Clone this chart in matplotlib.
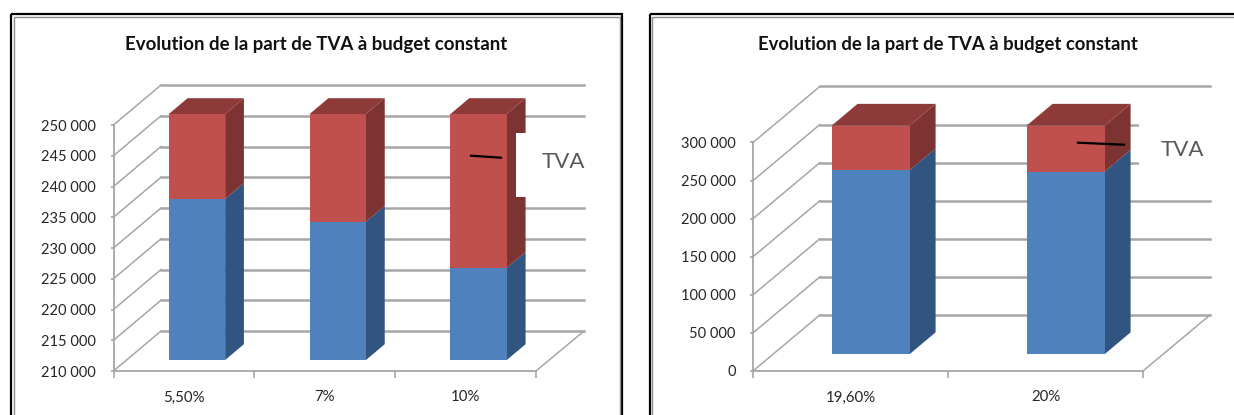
import matplotlib
matplotlib.use('Agg')
import matplotlib.pyplot as plt
from matplotlib.patches import Rectangle
import numpy as np

plt.rcParams['font.family'] = ['Lato', 'DejaVu Sans']

W, H = 1234, 415
TITLE = 'Evolution de la part de TVA à budget constant'
SERIES_LABEL = 'TVA'

left_categories = ['5,50%', '7%', '10%']
left_base = [236200, 232500, 225000]
left_tva = [13800, 17500, 25000]
left_ticks = [210000, 215000, 220000, 225000, 230000, 235000, 240000, 245000, 250000]

right_categories = ['19,60%', '20%']
right_base = [241500, 239800]
right_tva = [58500, 60200]
right_ticks = [0, 50000, 100000, 150000, 200000, 250000, 300000]

BLUE, BLUE_SIDE = '#4f81bd', '#325480'
RED, RED_SIDE, RED_TOP = '#c0504d', '#7d3331', '#8d3a38'
GRID = '#a6a6a6'
TEXT = '#262626'


def draw_panel(fig, box, wall, grid_end, depth, categories, base, tva, ticks):
    # box = front plane in pixels (x0, x1, y_bottom, y_top), image coords
    x0, x1, yb, yt = box
    ax = fig.add_axes([x0 / W, 1 - yb / H, (x1 - x0) / W, (yb - yt) / H])
    n = len(categories)
    ax.set_xlim(0, n)
    ax.set_ylim(ticks[0], ticks[-1])
    ax.patch.set_visible(False)

    px_x = n / (x1 - x0)
    px_y = (ticks[-1] - ticks[0]) / (yb - yt)
    wx, wy = wall[0] * px_x, wall[1] * px_y
    end = (grid_end - x0) * px_x

    # walls: side diagonals and back gridlines
    for t in ticks:
        ax.plot([0, wx], [t, t + wy], color=GRID, lw=1.1, clip_on=False, zorder=1)
        ax.plot([wx, end], [t + wy, t + wy], color=GRID, lw=1.8, clip_on=False, zorder=1)
    ax.plot([n, end], [ticks[0], ticks[0] + wy], color=GRID, lw=1.1, clip_on=False, zorder=1)

    # 3D bars
    f0, f1 = depth
    width = 0.4
    for i in range(n):
        xl = i + 0.5 - width / 2 + f0 * wx
        xr = xl + width
        y0 = ticks[0] + f0 * wy
        y1 = base[i] + f0 * wy
        y2 = base[i] + tva[i] + f0 * wy
        ddx, ddy = (f1 - f0) * wx, (f1 - f0) * wy
        ax.fill([xr, xr + ddx, xr + ddx, xr], [y0, y0 + ddy, y1 + ddy, y1],
                color=BLUE_SIDE, lw=0, clip_on=False, zorder=2)
        ax.fill([xr, xr + ddx, xr + ddx, xr], [y1, y1 + ddy, y2 + ddy, y2],
                color=RED_SIDE, lw=0, clip_on=False, zorder=2)
        ax.fill([xl, xl + ddx, xr + ddx, xr], [y2, y2 + ddy, y2 + ddy, y2],
                color=RED_TOP, lw=0, clip_on=False, zorder=2)
        ax.bar(xl + width / 2, y1 - y0, width, bottom=y0, color=BLUE, clip_on=False, zorder=3)
        ax.bar(xl + width / 2, y2 - y1, width, bottom=y1, color=RED, clip_on=False, zorder=3)

    for s in ['top', 'right']:
        ax.spines[s].set_visible(False)
    for s in ['left', 'bottom']:
        ax.spines[s].set_color(GRID)
        ax.spines[s].set_linewidth(1.3)
    ax.set_yticks(ticks)
    ax.set_yticklabels([f'{t:,}'.replace(',', ' ') for t in ticks], fontsize=10.5, color=TEXT)
    ax.set_xticks(np.arange(n + 1))
    ax.set_xticklabels([])
    ax.set_xticks(np.arange(n) + 0.5, minor=True)
    ax.set_xticklabels(categories, minor=True, fontsize=10.8, color=TEXT)
    ax.tick_params(axis='x', which='major', length=5, color=GRID, width=1.2)
    ax.tick_params(axis='x', which='minor', length=0, pad=14)
    ax.tick_params(axis='y', length=2.5, color=GRID, width=1.2, pad=10)
    return ax


fig = plt.figure(figsize=(W / 100, H / 100), dpi=100, facecolor='white')

draw_panel(fig, (113.5, 536, 371, 125), (47.5, 40), 584, (0.275, 0.67),
           left_categories, left_base, left_tva, left_ticks)
draw_panel(fig, (753, 1143, 371, 142.5), (66.8, 56), 1210, (0.30, 0.69),
           right_categories, right_base, right_tva, right_ticks)

# overlay in pixel coordinates for frames, titles and the series label
over = fig.add_axes([0, 0, 1, 1])
over.set_xlim(0, W)
over.set_ylim(H, 0)
over.axis('off')

for x, w in [(11, 611), (649.5, 600)]:
    over.add_patch(Rectangle((x, 14.5), w, 420, fill=False, ec='black', lw=1.6))
    over.add_patch(Rectangle((x + 2.5, 17), w - 5, 420, fill=False, ec='#8c8c8c', lw=1.0))

# white boxes behind the series label, as in the original
over.add_patch(Rectangle((516, 133), 72, 64, fc='white', ec='none'))
over.add_patch(Rectangle((1139, 118), 75, 47, fc='white', ec='none'))

over.plot([471, 501], [155.7, 157.7], color='black', lw=1.6)
over.plot([1078, 1124], [142.7, 144.7], color='black', lw=1.6)

over.text(563, 162, SERIES_LABEL, ha='center', va='center', fontsize=16, color='#595959')
over.text(1182, 149.5, SERIES_LABEL, ha='center', va='center', fontsize=16, color='#595959')

over.text(316.5, 44.5, TITLE, ha='center', va='center', fontsize=13.4, fontweight='bold', color='#111111')
over.text(947.5, 44.5, TITLE, ha='center', va='center', fontsize=13.3, fontweight='bold', color='#111111')

fig.savefig('out.png', dpi=100)
